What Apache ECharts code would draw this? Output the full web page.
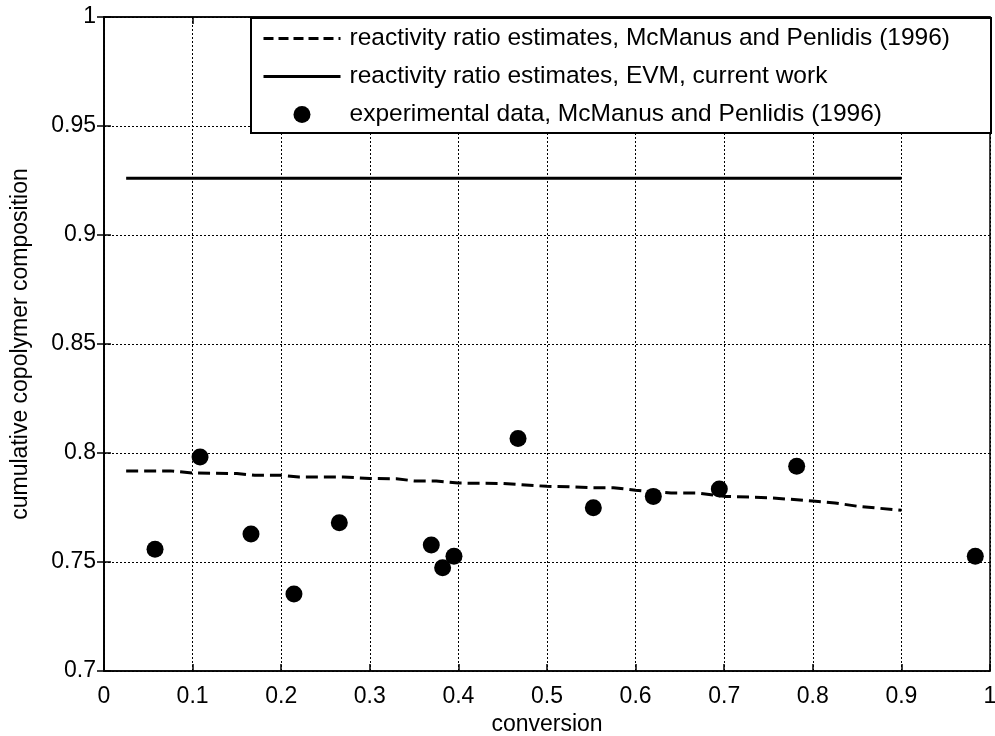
<!DOCTYPE html>
<html>
<head>
<meta charset="utf-8">
<script src="https://cdn.jsdelivr.net/npm/echarts@6/dist/echarts.min.js"></script>
<style>html,body{margin:0;padding:0;background:#fff}#c{width:995px;height:736px}</style>
</head>
<body>
<div id="c"></div>
<script>
// ---- data ----
const dashX = [0.025, 0.075, 0.1, 0.15, 0.17, 0.2, 0.22, 0.27, 0.3, 0.33, 0.35, 0.375, 0.4, 0.45, 0.5, 0.525, 0.55, 0.575, 0.6, 0.64, 0.67, 0.7, 0.75, 0.8, 0.825, 0.85, 0.9];
const dashY = [0.7918, 0.7918, 0.7908, 0.7906, 0.7898, 0.7898, 0.789, 0.789, 0.7883, 0.7882, 0.7872, 0.7872, 0.7862, 0.786, 0.7847, 0.7845, 0.7841, 0.7841, 0.7829, 0.7817, 0.7816, 0.7801, 0.7795, 0.778, 0.7771, 0.7756, 0.7737];
const solidX = [0.025, 0.9];
const solidY = [0.926, 0.926];
const expX = [0.0576, 0.1084, 0.1659, 0.2144, 0.2656, 0.3694, 0.3822, 0.395, 0.4673, 0.5523, 0.62, 0.6945, 0.7818, 0.9834];
const expY = [0.7558, 0.7982, 0.7628, 0.7353, 0.768, 0.7578, 0.7474, 0.7526, 0.8067, 0.7749, 0.7801, 0.7835, 0.7939, 0.7526];
const seriesNames = [
  'reactivity ratio estimates, McManus and Penlidis (1996)',
  'reactivity ratio estimates, EVM, current work',
  'experimental data, McManus and Penlidis (1996)'
];
const xTitle = 'conversion';
const yTitle = 'cumulative copolymer composition';

const zip = (a, b) => a.map((v, i) => [v, b[i]]);
const FONT = 'Liberation Sans, Arial, sans-serif';
const chart = echarts.init(document.getElementById('c'), null, {renderer: 'canvas'});

const grid = {left: 104, right: 5, top: 17, bottom: 65, show: true, borderColor: '#000', borderWidth: 1.5, backgroundColor: '#fff', outerBoundsMode: 'none', containLabel: false};
const split = {show: true, lineStyle: {color: '#000', type: [2, 2], width: 1}};
const tick = {show: true, inside: true, length: 7, lineStyle: {color: '#000', width: 1.5}};
const hiddenSym = {color: 'rgba(0,0,0,0)', borderWidth: 0, opacity: 0};

chart.setOption({
  animation: false,
  grid: grid,
  xAxis: [{
    type: 'value', min: 0, max: 1, interval: 0.1,
    name: xTitle, nameLocation: 'middle', nameGap: 40,
    nameTextStyle: {color: '#000', fontSize: 23, fontFamily: FONT},
    axisLine: {show: true, lineStyle: {color: '#000', width: 1.5}},
    axisTick: tick, splitLine: split,
    axisLabel: {color: '#000', fontSize: 23, fontFamily: FONT, margin: 14}
  }, {
    type: 'value', min: 0, max: 1, interval: 0.1, position: 'top',
    axisLine: {show: true, lineStyle: {color: '#000', width: 1.5}},
    axisTick: tick, splitLine: {show: false}, axisLabel: {show: false}
  }],
  yAxis: [{
    type: 'value', min: 0.7, max: 1, interval: 0.05,
    name: yTitle, nameLocation: 'middle', nameGap: 72, nameRotate: 90,
    nameTextStyle: {color: '#000', fontSize: 23, fontFamily: FONT},
    axisLine: {show: true, lineStyle: {color: '#000', width: 1.5}},
    axisTick: tick, splitLine: split,
    axisLabel: {color: '#000', fontSize: 23, fontFamily: FONT, margin: 8}
  }, {
    type: 'value', min: 0.7, max: 1, interval: 0.05, position: 'right',
    axisLine: {show: true, lineStyle: {color: '#000', width: 1.5}},
    axisTick: tick, splitLine: {show: false}, axisLabel: {show: false}
  }],
  graphic: [{
    type: 'rect', z: 10, left: 250, top: 17,
    shape: {width: 740, height: 115},
    style: {fill: '#fff', stroke: '#000', lineWidth: 2}
  }],
  legend: {
    z: 20, left: 250, top: 17, orient: 'vertical',
    padding: [9, 15, 9, 12],
    itemWidth: 77, itemHeight: 17, itemGap: 13,
    textStyle: {color: '#000', fontSize: 24.5, fontFamily: FONT, padding: [0, 0, 0, 4]},
    data: [
      {name: seriesNames[0], itemStyle: hiddenSym, lineStyle: {width: 3, type: [10, 5], color: '#000'}},
      {name: seriesNames[1], itemStyle: hiddenSym, lineStyle: {width: 3, type: 'solid', color: '#000'}},
      {name: seriesNames[2], icon: 'circle'}
    ]
  },
  series: [{
    name: seriesNames[0], type: 'line', symbol: 'none',
    data: zip(dashX, dashY),
    lineStyle: {color: '#000', width: 3, type: [12, 6]},
    itemStyle: {color: '#000'}
  }, {
    name: seriesNames[1], type: 'line', symbol: 'none',
    data: zip(solidX, solidY),
    lineStyle: {color: '#000', width: 3, type: 'solid'},
    itemStyle: {color: '#000'}
  }, {
    name: seriesNames[2], type: 'scatter', symbol: 'circle', symbolSize: 17,
    data: zip(expX, expY),
    itemStyle: {color: '#000', opacity: 1}
  }]
});
</script>
</body>
</html>
